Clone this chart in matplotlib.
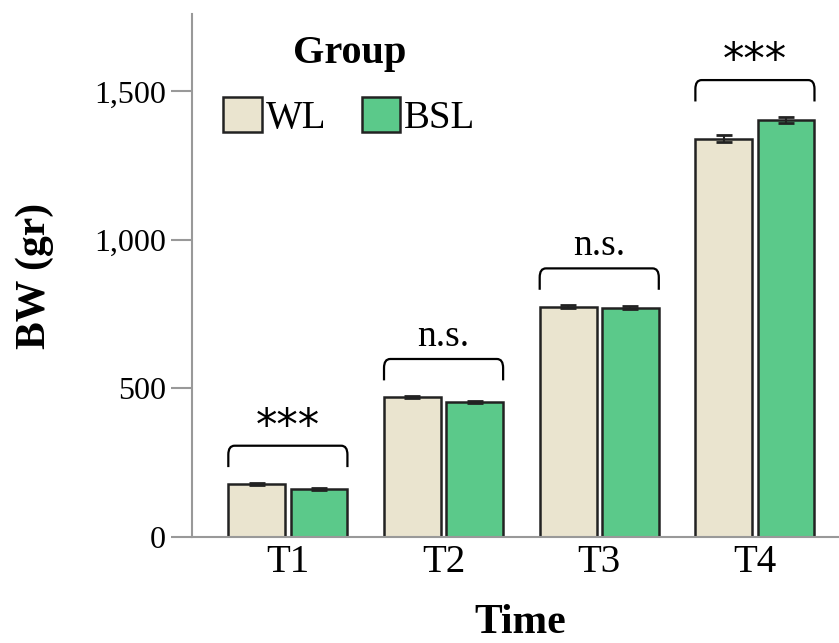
import numpy as np
import matplotlib
matplotlib.use("Agg")
import matplotlib.pyplot as plt
from matplotlib.path import Path
from matplotlib.patches import PathPatch

# ---- data ----
times = ["T1", "T2", "T3", "T4"]
groups = ["WL", "BSL"]
wl_mean = [179, 471, 775, 1341]
wl_err = [4, 4, 5, 13]
bsl_mean = [162, 454, 771, 1404]
bsl_err = [3, 4, 5, 10]
signif = ["***", "n.s.", "n.s.", "***"]
yticks = [0, 500, 1000, 1500]
ytick_labels = ["0", "500", "1,000", "1,500"]

colors = ["#EAE4CF", "#5BC98A"]
edge = "#222222"

plt.rcParams["font.family"] = ["Liberation Serif", "DejaVu Serif"]

fig = plt.figure(figsize=(8.39, 6.43), dpi=100)
ax = fig.add_axes([0.229, 0.165, 0.771, 0.813])

x = np.arange(len(times))
w = 0.365
off = 0.2
for i, (m, e) in enumerate([(wl_mean, wl_err), (bsl_mean, bsl_err)]):
    ax.bar(x + (i * 2 - 1) * off, m, width=w, color=colors[i], edgecolor=edge,
           linewidth=1.8, label=groups[i], zorder=2)
    ax.errorbar(x + (i * 2 - 1) * off, m, yerr=e, fmt="none", ecolor=edge,
                elinewidth=1.5, capsize=6, capthick=2.0, zorder=3)

# significance brackets
for i in range(len(times)):
    top = max(wl_mean[i] + wl_err[i], bsl_mean[i] + bsl_err[i]) + 124
    drop = 72
    x0 = x[i] - off - w / 2
    x1 = x[i] + off + w / 2
    rx, ry = 0.04, 30
    verts = [(x0, top - drop), (x0, top - ry), (x0, top), (x0 + rx, top),
             (x1 - rx, top), (x1, top), (x1, top - ry), (x1, top - drop)]
    codes = [Path.MOVETO, Path.LINETO, Path.CURVE3, Path.CURVE3,
             Path.LINETO, Path.CURVE3, Path.CURVE3, Path.LINETO]
    ax.add_patch(PathPatch(Path(verts, codes), fill=False, edgecolor="black",
                           linewidth=1.6, zorder=3))
    if signif[i] == "***":
        ax.text(x[i], top - 8, signif[i], ha="center", va="bottom",
                fontsize=31, family=["DejaVu Sans"])
    else:
        ax.text(x[i], top + 18, signif[i], ha="center", va="bottom",
                fontsize=27)

ax.set_xlim(-0.615, 3.54)
ax.set_ylim(0, 1760)
ax.set_xticks(x)
ax.set_xticklabels(times, fontsize=28)
ax.set_yticks(yticks)
ax.set_yticklabels(ytick_labels, fontsize=23)

for s in ["top", "right"]:
    ax.spines[s].set_visible(False)
for s in ["left", "bottom"]:
    ax.spines[s].set_color("#999999")
    ax.spines[s].set_linewidth(1.5)
ax.tick_params(axis="y", length=15, width=1.5, color="#999999", pad=4)
ax.tick_params(axis="x", length=0, pad=5)

ax.set_ylabel("BW (gr)", fontsize=30, fontweight="bold")
ax.yaxis.set_label_coords(-0.214, 0.5)
ax.set_xlabel("Time", fontsize=30, fontweight="bold")
ax.xaxis.set_label_coords(0.507, -0.128)

leg = ax.legend(title="Group", ncol=2, loc="upper left",
                bbox_to_anchor=(0.012, 1.005), frameon=False, fontsize=28,
                title_fontproperties={"weight": "bold", "size": 29},
                handlelength=1.0, handleheight=1.0, handletextpad=0.1,
                columnspacing=0.9, borderaxespad=0.2, labelspacing=0.65)
for p in leg.get_patches():
    p.set_edgecolor(edge)
    p.set_linewidth(1.8)

fig.savefig("out.png", dpi=100)
